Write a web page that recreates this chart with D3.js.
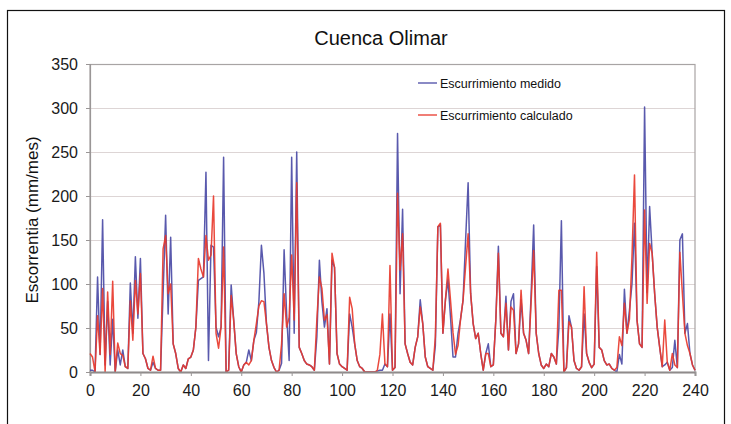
<!DOCTYPE html>
<html><head><meta charset="utf-8">
<script src="https://cdn.jsdelivr.net/npm/d3@7/dist/d3.min.js"></script>
<style>
body{margin:0;background:#fff}
svg{display:block}
text{font-family:"Liberation Sans",Arial,Helvetica,sans-serif}
</style>
</head><body>
<svg id="chart" width="731" height="424"></svg>
<script>
const title = "Cuenca Olimar";
const yTitle = "Escorrentia (mm/mes)";
const seriesNames = ["Escurrimiento medido", "Escurrimiento calculado"];
const xTicks = [0, 20, 40, 60, 80, 100, 120, 140, 160, 180, 200, 220, 240];
const yTicks = [0, 50, 100, 150, 200, 250, 300, 350];

const medido = [
  2,2,0,108,20,173,8,80,8,60,
  0,25,8,25,6,4,101,44,131,61,
  129,21,15,4,2,11,4,2,2,90,
  178,66,153,32,21,4,0,8,4,15,
  17,25,51,104,106,108,227,13,144,142,
  51,40,51,244,0,2,99,59,21,6,
  0,8,11,25,13,36,45,80,144,112,
  55,28,13,5,0,2,10,139,66,13,
  244,44,250,28,21,13,9,8,6,2,
  40,127,80,51,72,9,127,119,21,9,
  6,4,2,66,51,32,13,6,4,0,
  0,0,0,0,1,2,2,9,6,66,
  2,5,271,89,185,32,21,11,8,28,
  40,82,55,17,6,4,2,30,165,167,
  44,82,105,63,17,17,44,60,82,150,
  215,89,55,38,44,21,2,21,32,6,
  8,60,143,44,40,86,25,80,89,21,
  32,82,44,36,21,89,167,44,21,8,
  4,9,6,21,17,9,50,172,0,5,
  64,51,13,4,2,6,66,21,11,5,
  9,120,28,25,13,8,9,4,2,0,
  20,9,94,44,70,100,169,59,32,28,
  301,90,188,135,89,51,28,6,8,11,
  2,5,36,5,150,157,44,55,21,8,
  2
];
const calculado = [
  21,17,0,64,20,95,0,91,20,103,
  0,33,21,19,6,4,81,36,104,66,
  112,21,15,4,2,18,4,2,2,140,
  155,89,100,32,21,4,0,8,4,15,
  17,25,51,129,117,108,155,127,133,200,
  44,27,51,142,0,2,87,59,21,6,
  0,8,11,8,13,36,55,75,81,80,
  55,28,13,5,0,2,32,89,51,62,
  133,59,215,28,21,13,9,8,6,2,
  60,108,95,59,65,9,135,119,21,9,
  6,4,2,85,72,32,13,6,4,0,
  0,0,0,0,2,20,66,9,6,121,
  2,5,203,116,157,32,21,11,8,28,
  40,74,55,17,6,4,2,40,165,169,
  44,82,117,82,45,20,30,60,82,120,
  157,89,55,38,44,21,2,21,21,6,
  8,60,135,44,40,78,25,74,70,21,
  32,93,44,36,21,80,138,44,21,8,
  4,9,6,21,17,9,93,93,0,5,
  57,51,13,4,2,6,97,21,11,5,
  9,136,28,25,13,8,9,4,2,5,
  40,30,78,44,60,131,224,59,32,28,
  184,78,146,135,89,51,28,6,59,11,
  2,21,8,5,136,89,44,30,21,8,
  2
];
const seriesColors = ["#4b4ba6", "#e8392c"];

const svg = d3.select("#chart");
const mL = 90, mR = 695, mT = 64, mB = 372;

const x = d3.scaleLinear().domain([0, 240]).range([mL, mR]);
const y = d3.scaleLinear().domain([0, 350]).range([mB, mT]);

// outer frame
svg.append("rect").attr("x", 7.5).attr("y", 10.5).attr("width", 717).attr("height", 440)
  .attr("fill", "#fff").attr("stroke", "#111").attr("stroke-width", 1.2);

// gridlines
svg.append("g").selectAll("line").data(yTicks.filter(d => d > 0 && d < 350)).join("line")
  .attr("x1", mL).attr("x2", mR)
  .attr("y1", d => y(d) + 0.5).attr("y2", d => y(d) + 0.5)
  .attr("stroke", "#ddd5d5").attr("stroke-width", 1);

// plot border
svg.append("rect").attr("x", mL).attr("y", mT + 0.5).attr("width", mR - mL).attr("height", mB - mT)
  .attr("fill", "none").attr("stroke", "#a8a4a4").attr("stroke-width", 1.2);

// y axis
const yAxis = d3.axisLeft(y).tickValues(yTicks).tickSize(4).tickPadding(8).tickFormat(d3.format("d"));
const gy = svg.append("g").attr("transform", `translate(${mL},0)`).call(yAxis);
gy.select(".domain").attr("stroke", "#9a9696").attr("stroke-width", 1.2);
gy.selectAll(".tick line").attr("stroke", "#9a9696");
gy.selectAll(".tick text").attr("font-size", 16).attr("fill", "#1a1a1a")
  .attr("font-family", "'Liberation Sans', Arial, sans-serif");

// lines
const line = d3.line().x((d, i) => x(i)).y(d => y(d)).curve(d3.curveLinear);
[medido, calculado].forEach((s, k) => {
  svg.append("path").datum(s).attr("d", line)
    .attr("fill", "none").attr("stroke", seriesColors[k]).attr("stroke-width", 1.5)
    .attr("stroke-linejoin", "round").attr("opacity", 0.92);
});

// x axis
const xAxis = d3.axisBottom(x).tickValues(xTicks).tickSize(4).tickPadding(9).tickFormat(d3.format("d"));
const gx = svg.append("g").attr("transform", `translate(0,${mB})`).call(xAxis);
gx.select(".domain").attr("stroke", "#8f8b8b").attr("stroke-width", 2);
gx.selectAll(".tick line").attr("stroke", "#9a9696");
gx.selectAll(".tick text").attr("font-size", 16).attr("fill", "#1a1a1a")
  .attr("font-family", "'Liberation Sans', Arial, sans-serif");

// title
svg.append("text").attr("x", 381).attr("y", 45).attr("text-anchor", "middle")
  .attr("font-size", 20).attr("fill", "#111").text(title);

// y title
svg.append("text").attr("transform", `translate(38,220) rotate(-90)`).attr("text-anchor", "middle")
  .attr("font-size", 17).attr("fill", "#111").text(yTitle);

// legend
const legY = [83, 115];
seriesNames.forEach((n, k) => {
  svg.append("line").attr("x1", 418).attr("x2", 437).attr("y1", legY[k]).attr("y2", legY[k])
    .attr("stroke", seriesColors[k]).attr("stroke-width", 1.3);
  svg.append("text").attr("x", 440).attr("y", legY[k] + 4.5).attr("font-size", 12.5)
    .attr("fill", "#111").text(n);
});
</script>
</body></html>
